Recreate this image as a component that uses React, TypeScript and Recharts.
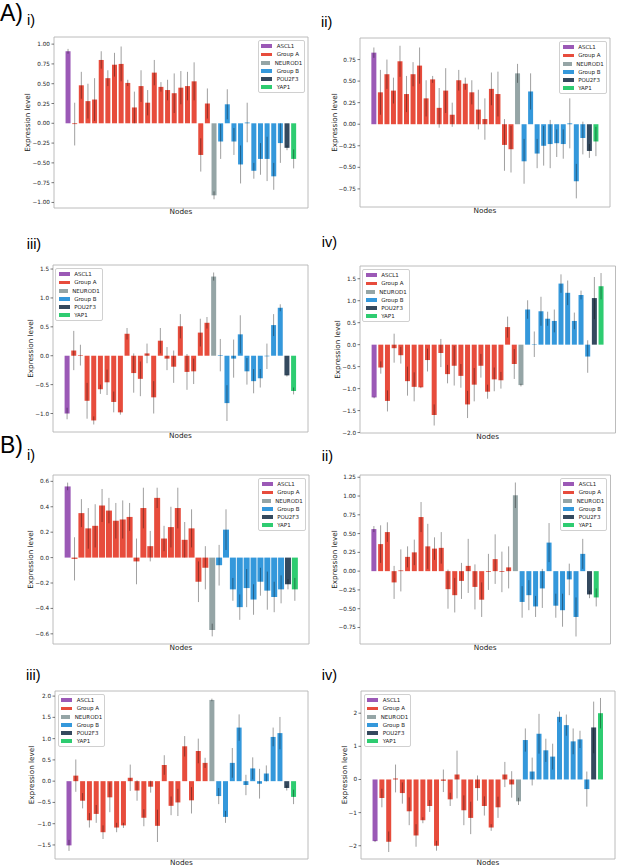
import React from 'react';
import { BarChart, Bar, XAxis, YAxis, Cell, ErrorBar, Legend } from 'recharts';

const GROUP_COLORS: Record<string, string> = {
  ASCL1: '#9b59b6',
  'Group A': '#e74c3c',
  NEUROD1: '#95a5a6',
  'Group B': '#3498db',
  POU2F3: '#34495e',
  YAP1: '#2ecc71',
};
const LEGEND_ITEMS = ['ASCL1', 'Group A', 'NEUROD1', 'Group B', 'POU2F3', 'YAP1'];

const AS = 'ASCL1', GA = 'Group A', ND = 'NEUROD1', GB = 'Group B', PO = 'POU2F3', YA = 'YAP1';

// group of each node, left to right (A panels have one more Group A node)
const NODES_A = [
  AS, GA, GA, GA, GA, GA, GA, GA, GA, GA, GA, GA, GA, GA, GA, GA, GA, GA, GA, GA, GA, GA,
  ND, GB, GB, GB, GB, GB, GB, GB, GB, GB, GB, PO, YA,
];
const NODES_B = [
  AS, GA, GA, GA, GA, GA, GA, GA, GA, GA, GA, GA, GA, GA, GA, GA, GA, GA, GA, GA, GA,
  ND, GB, GB, GB, GB, GB, GB, GB, GB, GB, GB, PO, YA,
];

const A1_VALUES = [0.91, -0.01, 0.48, 0.28, 0.30, 0.80, 0.57, 0.74, 0.75, 0.51, 0.20, 0.47, 0.26, 0.64, 0.46, 0.42, 0.38, 0.45, 0.47, 0.53, -0.40, 0.25, -0.91, -0.23, 0.24, -0.23, -0.52, 0.01, -0.60, -0.45, -0.45, -0.67, -0.25, -0.31, -0.45];
const A1_ERRORS = [0.03, 0.27, 0.17, 0.22, 0.27, 0.11, 0.10, 0.15, 0.22, 0.04, 0.20, 0.20, 0.16, 0.16, 0.06, 0.13, 0.25, 0.21, 0.18, 0.24, 0.21, 0.19, 0.05, 0.22, 0.19, 0.17, 0.24, 0.25, 0.10, 0.20, 0.28, 0.17, 0.25, 0.03, 0.12];

const A2_VALUES = [0.83, 0.37, 0.58, 0.39, 0.73, 0.35, 0.58, 0.68, 0.30, 0.52, 0.19, 0.39, 0.11, 0.51, 0.47, 0.37, 0.17, 0.06, 0.41, 0.35, -0.24, -0.29, 0.59, -0.43, 0.38, -0.34, -0.25, -0.23, -0.22, -0.23, 0.01, -0.66, -0.16, -0.31, -0.20];
const A2_ERRORS = [0.06, 0.26, 0.17, 0.15, 0.18, 0.21, 0.14, 0.21, 0.21, 0.04, 0.23, 0.26, 0.14, 0.12, 0.07, 0.14, 0.23, 0.24, 0.19, 0.26, 0.30, 0.27, 0.11, 0.26, 0.21, 0.17, 0.23, 0.28, 0.16, 0.17, 0.29, 0.20, 0.19, 0.08, 0.17];

const A3_VALUES = [-1.00, 0.09, 0.01, -0.78, -1.12, -0.58, -0.46, -0.80, -0.98, 0.38, -0.30, -0.40, 0.04, -0.72, 0.26, -0.05, -0.19, 0.51, -0.28, -0.27, 0.40, 0.57, 1.37, 0.01, -0.82, -0.05, 0.37, -0.27, -0.44, -0.39, -0.01, 0.53, 0.83, -0.34, -0.61];
const A3_ERRORS = [0.10, 0.34, 0.18, 0.31, 0.07, 0.08, 0.22, 0.18, 0.04, 0.10, 0.34, 0.30, 0.17, 0.28, 0.22, 0.20, 0.28, 0.21, 0.31, 0.22, 0.24, 0.10, 0.07, 0.28, 0.31, 0.33, 0.33, 0.23, 0.21, 0.16, 0.22, 0.19, 0.06, 0.02, 0.06];

const A4_VALUES = [-1.20, -0.52, -1.28, -0.08, -0.24, -0.83, -0.96, -0.97, -0.35, -1.60, -0.19, -0.67, -0.48, -0.71, -1.36, -0.91, -0.48, -1.07, -0.79, -0.81, 0.40, -0.44, -0.92, 0.80, 0.01, 0.76, 0.59, 0.54, 1.39, 1.18, 0.54, 1.13, -0.27, 1.06, 1.33];
const A4_ERRORS = [0.02, 0.14, 0.24, 0.33, 0.19, 0.33, 0.33, 0.02, 0.26, 0.24, 0.32, 0.21, 0.45, 0.27, 0.31, 0.38, 0.27, 0.16, 0.27, 0.19, 0.24, 0.34, 0.03, 0.21, 0.29, 0.33, 0.16, 0.26, 0.21, 0.28, 0.19, 0.10, 0.37, 0.48, 0.30];

const B1_VALUES = [0.56, -0.01, 0.35, 0.23, 0.25, 0.41, 0.37, 0.29, 0.30, 0.32, -0.03, 0.39, 0.09, 0.47, 0.15, 0.24, 0.39, 0.14, 0.23, -0.19, -0.08, -0.57, -0.06, 0.22, -0.25, -0.39, -0.24, -0.33, -0.19, -0.26, -0.31, -0.25, -0.21, -0.25];
const B1_ERRORS = [0.03, 0.17, 0.11, 0.16, 0.17, 0.13, 0.10, 0.14, 0.15, 0.11, 0.18, 0.16, 0.12, 0.08, 0.10, 0.16, 0.16, 0.14, 0.15, 0.16, 0.17, 0.05, 0.16, 0.16, 0.09, 0.10, 0.15, 0.12, 0.11, 0.15, 0.12, 0.11, 0.04, 0.09];

const B2_VALUES = [0.56, 0.36, 0.52, -0.15, 0.01, 0.19, 0.25, 0.72, 0.33, 0.30, 0.31, -0.24, -0.32, -0.13, 0.07, -0.21, -0.38, -0.01, 0.16, -0.01, 0.05, 1.01, -0.41, -0.32, -0.47, -0.23, 0.38, -0.46, -0.52, -0.11, -0.61, 0.23, -0.31, -0.35];
const B2_ERRORS = [0.04, 0.25, 0.13, 0.22, 0.28, 0.14, 0.17, 0.20, 0.30, 0.15, 0.21, 0.26, 0.23, 0.24, 0.36, 0.30, 0.23, 0.24, 0.33, 0.27, 0.28, 0.17, 0.21, 0.20, 0.14, 0.26, 0.26, 0.16, 0.22, 0.21, 0.26, 0.20, 0.05, 0.12];

const B3_VALUES = [-1.51, 0.13, -0.46, -0.92, -0.77, -1.20, -0.38, -1.09, -1.04, 0.08, -0.22, -0.86, -0.13, -1.05, 0.38, -0.58, -0.50, 0.82, -0.45, 0.71, 0.43, 1.91, -0.35, -0.84, 0.43, 1.26, -0.09, 0.30, -0.06, 0.18, 1.04, 1.13, -0.16, -0.37];
const B3_ERRORS = [0.13, 0.38, 0.18, 0.17, 0.21, 0.16, 0.35, 0.11, 0.06, 0.31, 0.24, 0.20, 0.14, 0.38, 0.23, 0.22, 0.32, 0.24, 0.31, 0.29, 0.12, 0.03, 0.19, 0.14, 0.35, 0.31, 0.24, 0.26, 0.35, 0.19, 0.22, 0.38, 0.06, 0.17];

const B4_VALUES = [-1.86, -0.56, -1.88, 0.03, -0.41, -0.96, -1.69, -1.23, -0.80, -2.00, -0.04, -0.60, 0.15, -0.93, -1.16, -0.26, -0.80, -1.45, -0.84, 0.15, -0.15, -0.66, 1.19, 0.24, 1.38, 0.88, 0.69, 1.89, 1.64, 1.15, 1.21, -0.29, 1.57, 2.00];
const B4_ERRORS = [0.03, 0.28, 0.31, 0.42, 0.32, 0.42, 0.34, 0.09, 0.18, 0.15, 0.34, 0.20, 0.72, 0.45, 0.49, 0.38, 0.29, 0.10, 0.32, 0.38, 0.40, 0.11, 0.35, 0.42, 0.60, 0.35, 0.39, 0.16, 0.32, 0.39, 0.26, 0.53, 0.78, 0.46];

const TICKS_A1 = [-1, -0.75, -0.5, -0.25, 0, 0.25, 0.5, 0.75, 1];
const TICKS_A2 = [-0.75, -0.5, -0.25, 0, 0.25, 0.5, 0.75];
const TICKS_A3 = [-1, -0.5, 0, 0.5, 1, 1.5];
const TICKS_A4 = [-2, -1.5, -1, -0.5, 0, 0.5, 1, 1.5];
const TICKS_B1 = [-0.6, -0.4, -0.2, 0, 0.2, 0.4, 0.6];
const TICKS_B2 = [-0.75, -0.5, -0.25, 0, 0.25, 0.5, 0.75, 1, 1.25];
const TICKS_B3 = [-1.5, -1, -0.5, 0, 0.5, 1, 1.5, 2];
const TICKS_B4 = [-2, -1, 0, 1, 2];

const FRAME = '#b4b4b4';
const INK = '#222';
const YAW = 40;
const XH = 14;

type PanelDef = {
  nodes: string[];
  values: number[];
  errors: number[];
  domain: [number, number];
  ticks: number[];
  decimals: number;
  frame: { x: number; y: number; w: number; h: number };
  legendLeft: boolean;
  labelGap: number;
};

const PANELS: PanelDef[] = [
  { nodes: NODES_A, values: A1_VALUES, errors: A1_ERRORS, domain: [-1.07, 1.09], ticks: TICKS_A1, decimals: 2, frame: { x: 54, y: 37, w: 254, h: 171 }, legendLeft: false, labelGap: 26.7 },
  { nodes: NODES_A, values: A2_VALUES, errors: A2_ERRORS, domain: [-0.96, 1.0], ticks: TICKS_A2, decimals: 2, frame: { x: 359.5, y: 38, w: 250, h: 169 }, legendLeft: false, labelGap: 26 },
  { nodes: NODES_A, values: A3_VALUES, errors: A3_ERRORS, domain: [-1.32, 1.57], ticks: TICKS_A3, decimals: 1, frame: { x: 52.5, y: 265, w: 255, h: 167 }, legendLeft: true, labelGap: 23 },
  { nodes: NODES_A, values: A4_VALUES, errors: A4_ERRORS, domain: [-2.01, 1.79], ticks: TICKS_A4, decimals: 1, frame: { x: 359.5, y: 266, w: 255.5, h: 167 }, legendLeft: true, labelGap: 22.6 },
  { nodes: NODES_B, values: B1_VALUES, errors: B1_ERRORS, domain: [-0.68, 0.65], ticks: TICKS_B1, decimals: 1, frame: { x: 52.5, y: 475, w: 256, h: 169 }, legendLeft: false, labelGap: 22.3 },
  { nodes: NODES_B, values: B2_VALUES, errors: B2_ERRORS, domain: [-0.97, 1.28], ticks: TICKS_B2, decimals: 2, frame: { x: 359.5, y: 475, w: 250.5, h: 169 }, legendLeft: false, labelGap: 26 },
  { nodes: NODES_B, values: B3_VALUES, errors: B3_ERRORS, domain: [-1.83, 2.12], ticks: TICKS_B3, decimals: 1, frame: { x: 55, y: 691, w: 253, h: 168 }, legendLeft: true, labelGap: 23.3 },
  { nodes: NODES_B, values: B4_VALUES, errors: B4_ERRORS, domain: [-2.4, 2.67], ticks: TICKS_B4, decimals: 0, frame: { x: 361, y: 691, w: 254, h: 168 }, legendLeft: true, labelGap: 16.4 },
];

const TAGS = [
  { text: 'A)', x: 0, y: 2, size: 23 },
  { text: 'i)', x: 27, y: 13.3, size: 14.5 },
  { text: 'ii)', x: 321, y: 15, size: 14.5 },
  { text: 'iii)', x: 26.7, y: 236.6, size: 14.5 },
  { text: 'iv)', x: 321.7, y: 235, size: 14.5 },
  { text: 'B)', x: 0, y: 433.7, size: 23 },
  { text: 'i)', x: 27, y: 448.3, size: 14.5 },
  { text: 'ii)', x: 321.7, y: 449.3, size: 14.5 },
  { text: 'iii)', x: 26, y: 668.3, size: 14.5 },
  { text: 'iv)', x: 321.7, y: 667.6, size: 14.5 },
];

const fmt = (dec: number) => (v: number) =>
  (v < 0 ? '\u2212' : '') + Math.abs(v).toFixed(dec);

const LegendBox = () => (
  <div
    style={{
      width: 47.5,
      boxSizing: 'border-box',
      border: '0.8px solid #d0d0d0',
      borderRadius: 2,
      background: 'rgba(255,255,255,0.85)',
      padding: '1.5px 2px 1px 2.5px',
      fontFamily: '"DejaVu Sans", sans-serif',
      fontSize: 5.5,
      lineHeight: '8.2px',
      color: INK,
      whiteSpace: 'nowrap',
    }}
  >
    {LEGEND_ITEMS.map((name) => (
      <div key={name} style={{ display: 'flex', alignItems: 'center', height: 8.2 }}>
        <span style={{ display: 'inline-block', width: 11, height: 3.8, background: GROUP_COLORS[name], marginRight: 4.4 }} />
        <span>{name}</span>
      </div>
    ))}
  </div>
);

const Panel: React.FC<{ p: PanelDef }> = ({ p }) => {
  const { x, y, w, h } = p.frame;
  const n = p.nodes.length;
  const unit = w / (1.1 * (n - 0.2));
  const pad = (0.05 * (n - 0.2) - 0.1) * unit;
  const chartW = YAW + w + 2;
  const chartH = 1 + h + XH;
  const data = p.nodes.map((g, i) => ({ node: `n${i + 1}`, group: g, value: p.values[i], err: p.errors[i] }));
  const legendX = p.legendLeft ? YAW + 2.75 : YAW + w - 2.75 - 47.5;

  return (
    <div style={{ position: 'absolute', left: x - YAW, top: y - 1 }}>
      <BarChart width={chartW} height={chartH} data={data} margin={{ top: 0, right: 1, bottom: 0, left: 0 }}>
        <XAxis
          dataKey="node"
          padding={{ left: pad, right: pad }}
          height={XH}
          tick={false}
          tickLine={false}
          axisLine={{ stroke: FRAME, strokeWidth: 0.9 }}
          label={{ value: 'Nodes', position: 'insideTop', offset: 1.2, fontSize: 7.3, fill: INK }}
        />
        <XAxis
          xAxisId="top"
          orientation="top"
          dataKey="node"
          height={1}
          tick={false}
          tickLine={false}
          axisLine={{ stroke: FRAME, strokeWidth: 0.9 }}
        />
        <YAxis
          type="number"
          domain={p.domain}
          allowDataOverflow
          ticks={p.ticks}
          interval={0}
          width={YAW}
          tickSize={2.5}
          tickMargin={1.5}
          tick={{ fontSize: 5.7, fill: INK }}
          tickLine={{ stroke: INK, strokeWidth: 0.6 }}
          axisLine={{ stroke: FRAME, strokeWidth: 0.9 }}
          tickFormatter={fmt(p.decimals)}
          label={{
            value: 'Expression level',
            angle: -90,
            position: 'insideLeft',
            offset: YAW - p.labelGap,
            fontSize: 7.2,
            fill: INK,
            style: { textAnchor: 'middle' },
          }}
        />
        <YAxis
          yAxisId="right"
          orientation="right"
          type="number"
          domain={p.domain}
          allowDataOverflow
          width={1}
          tick={false}
          tickLine={false}
          axisLine={{ stroke: FRAME, strokeWidth: 0.9 }}
        />
        <Legend
          layout="horizontal"
          verticalAlign="middle"
          align="center"
          wrapperStyle={{ left: legendX, top: 1 + 2.75, width: 47.5, height: 52 }}
          content={() => <LegendBox />}
        />
        <Bar dataKey="value" isAnimationActive={false}>
          {data.map((d, i) => (
            <Cell key={`cell-${i}`} fill={GROUP_COLORS[d.group]} />
          ))}
          <ErrorBar dataKey="err" width={0} stroke="rgba(0,0,0,0.42)" strokeWidth={0.9} direction="y" isAnimationActive={false} />
        </Bar>
      </BarChart>
    </div>
  );
};

export default function App() {
  return (
    <div
      style={{
        position: 'absolute',
        left: 0,
        top: 0,
        width: 617,
        height: 867,
        background: '#fff',
        fontFamily: '"DejaVu Sans", sans-serif',
        overflow: 'hidden',
      }}
    >
      {TAGS.map((t, i) => (
        <div
          key={i}
          style={{
            position: 'absolute',
            left: t.x,
            top: t.y,
            fontFamily: '"Liberation Sans", Arial, sans-serif',
            fontSize: t.size,
            lineHeight: 1,
            color: '#000',
          }}
        >
          {t.text}
        </div>
      ))}
      {PANELS.map((p, i) => (
        <Panel key={i} p={p} />
      ))}
    </div>
  );
}
